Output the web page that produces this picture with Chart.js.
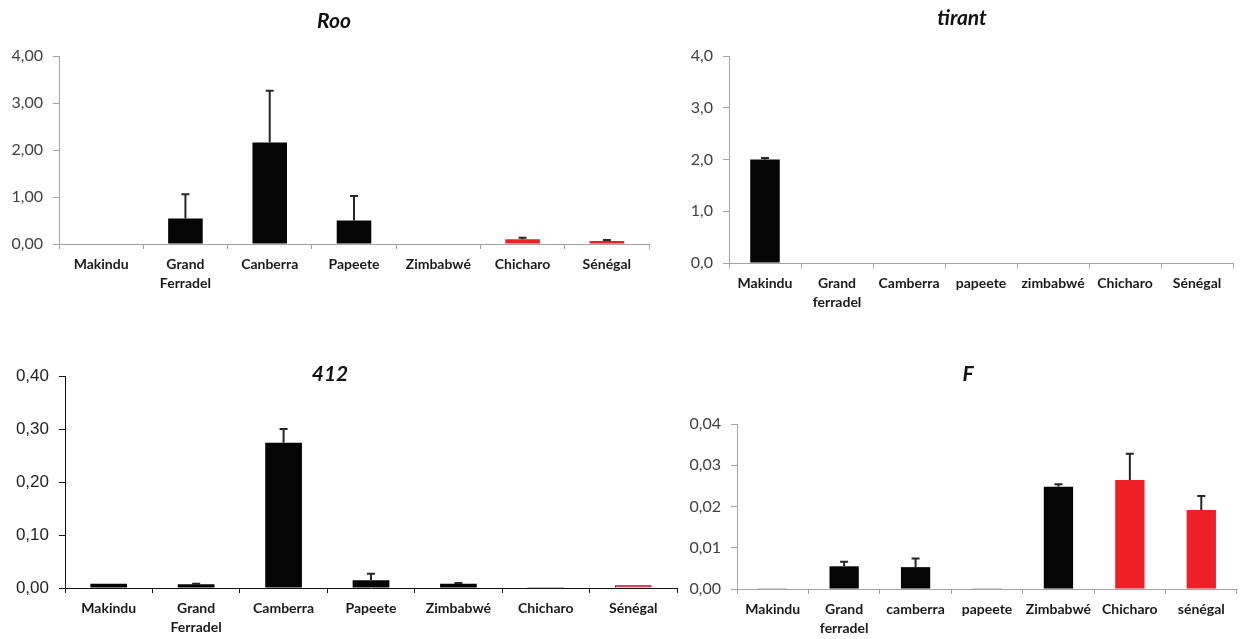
<!DOCTYPE html>
<html>
<head>
<meta charset="utf-8">
<script src="https://cdn.jsdelivr.net/npm/chart.js@4.4.1/dist/chart.umd.min.js"></script>
<style>
  html, body { margin: 0; padding: 0; background: #fff; }
  body { width: 1248px; height: 639px; position: relative; overflow: hidden; }
  .box { position: absolute; }
  .ttl { position: absolute; font-family: Lato, "Open Sans", sans-serif; font-weight: bold; font-style: italic;
         font-size: 21px; color: #111; transform: translate(-50%, -50%); white-space: nowrap; }
</style>
</head>
<body>
<div class="box" style="left:0;top:0;width:652px;height:300px"><canvas id="roo"></canvas></div>
<div class="box" style="left:680px;top:0;width:556px;height:320px"><canvas id="tirant"></canvas></div>
<div class="box" style="left:0;top:330px;width:680px;height:309px"><canvas id="c412"></canvas></div>
<div class="box" style="left:680px;top:330px;width:560px;height:309px"><canvas id="cF"></canvas></div>

<div class="ttl" style="left:334px;top:19px">Roo</div>
<div class="ttl" style="left:962px;top:16px">tirant</div>
<div class="ttl" style="left:330px;top:372px">412</div>
<div class="ttl" style="left:968px;top:372px">F</div>

<script>
"use strict";

// Roo
const rooLabels = ["Makindu", ["Grand", "Ferradel"], "Canberra", "Papeete", "Zimbabwé", "Chicharo", "Sénégal"];
const rooValues = [0, 0.54, 2.16, 0.50, 0, 0.10, 0.065];
const rooErrors = [0, 0.52, 1.10, 0.52, 0, 0.035, 0.02];
const rooColors = ["#050505", "#050505", "#050505", "#050505", "#050505", "#ed1f27", "#ed1f27"];

// tirant
const tirantLabels = ["Makindu", ["Grand", "ferradel"], "Camberra", "papeete", "zimbabwé", "Chicharo", "Sénégal"];
const tirantValues = [2.0, 0, 0, 0.01, 0, 0, 0];
const tirantErrors = [0.03, 0, 0, 0, 0, 0, 0];
const tirantColors = ["#050505", "#050505", "#050505", "#777777", "#050505", "#050505", "#050505"];

// 412
const labels412 = ["Makindu", ["Grand", "Ferradel"], "Camberra", "Papeete", "Zimbabwé", "Chicharo", "Sénégal"];
const values412 = [0.008, 0.007, 0.274, 0.0145, 0.008, 0.0015, 0.005];
const errors412 = [0, 0.001, 0.026, 0.0125, 0.0015, 0, 0];
const colors412 = ["#050505", "#050505", "#050505", "#050505", "#050505", "#050505", "#ed1f27"];

// F
const labelsF = ["Makindu", ["Grand", "ferradel"], "camberra", "papeete", "Zimbabwé", "Chicharo", "sénégal"];
const valuesF = [0.0002, 0.0055, 0.0053, 0.0002, 0.0248, 0.02645, 0.01915];
const errorsF = [0, 0.0011, 0.0021, 0, 0.0006, 0.00635, 0.0034];
const colorsF = ["#8064a2", "#050505", "#050505", "#8064a2", "#050505", "#ed1f27", "#ed1f27"];

// barres d'erreur (seulement vers le haut)
const errorBars = {
    id: 'errorBars',
    afterDatasetsDraw(chart, args, opts) {
        const errs = opts.errors;
        if (!errs) return;
        const meta = chart.getDatasetMeta(0);
        const vals = chart.data.datasets[0].data;
        const y = chart.scales.y;
        const ctx = chart.ctx;
        ctx.save();
        ctx.strokeStyle = '#262626';
        ctx.lineWidth = 2;
        meta.data.forEach((bar, i) => {
            if (!errs[i]) return;
            const top = y.getPixelForValue(vals[i] + errs[i]);
            const base = y.getPixelForValue(vals[i]);
            ctx.beginPath();
            ctx.moveTo(bar.x, base);
            ctx.lineTo(bar.x, top);
            ctx.moveTo(bar.x - 4, top);
            ctx.lineTo(bar.x + 4, top);
            ctx.stroke();
        });
        ctx.restore();
    }
};

function makeChart(id, cfg) {
    const axisColor = cfg.axisColor || '#a3a3a3';
    new Chart(id, {
        type: 'bar',
        data: {
            labels: cfg.labels,
            datasets: [{
                data: cfg.values,
                backgroundColor: cfg.colors,
                borderColor: cfg.borderColors || cfg.colors,
                borderWidth: cfg.borderWidths || 0,
                categoryPercentage: 1,
                barPercentage: cfg.barPct
            }]
        },
        options: {
            responsive: true,
            maintainAspectRatio: false,
            animation: false,
            layout: { padding: { top: cfg.padTop, right: 3, left: 0, bottom: 0 } },
            plugins: {
                legend: { display: false },
                tooltip: { enabled: false },
                errorBars: { errors: cfg.errors }
            },
            scales: {
                x: {
                    offset: true,
                    grid: { offset: true, drawOnChartArea: false, drawTicks: true, tickLength: 5, color: axisColor },
                    border: { color: axisColor, width: 1 },
                    ticks: {
                        color: '#1a1a1a',
                        padding: 6,
                        maxRotation: 0,
                        autoSkip: false,
                        font: { family: 'Lato, "Open Sans", sans-serif', size: 14, weight: 'bold', lineHeight: 1.36 }
                    },
                    afterFit: (s) => { s.height = cfg.xHeight; }
                },
                y: {
                    min: 0,
                    max: cfg.max,
                    grid: { drawOnChartArea: false, drawTicks: true, tickLength: 6, color: axisColor },
                    border: { color: axisColor, width: 1 },
                    ticks: {
                        stepSize: cfg.step,
                        color: cfg.yTickColor || '#404040',
                        padding: cfg.yPad || 10,
                        font: cfg.yFont || { family: 'Lato, "Open Sans", sans-serif', size: 16 },
                        callback: (v) => Number(v).toFixed(cfg.dec).replace('.', ',')
                    },
                    afterFit: (s) => { s.width = cfg.yWidth; }
                }
            }
        },
        plugins: [errorBars]
    });
}

makeChart('roo', {
    labels: rooLabels, values: rooValues, errors: rooErrors, colors: rooColors,
    max: 4, step: 1, dec: 2, padTop: 56, xHeight: 56, yWidth: 59, barPct: 0.41
});

makeChart('tirant', {
    labels: tirantLabels, values: tirantValues, errors: tirantErrors, colors: tirantColors,
    max: 4, step: 1, dec: 1, padTop: 56, xHeight: 57, yWidth: 49, barPct: 0.41
});

makeChart('c412', {
    labels: labels412, values: values412, errors: errors412, colors: colors412,
    borderColors: ["#050505", "#050505", "#050505", "#050505", "#050505", "#050505", "#050505"],
    borderWidths: [0, 0, 0, 0, 0, 0, 1],
    max: 0.4, step: 0.1, dec: 2, padTop: 46, xHeight: 51, yWidth: 65, barPct: 0.42,
    axisColor: '#111111', yTickColor: '#222222',
    yFont: { family: '"Liberation Sans", Arial, sans-serif', size: 17 }
});

makeChart('cF', {
    labels: labelsF, values: valuesF, errors: errorsF, colors: colorsF,
    max: 0.04, step: 0.01, dec: 2, padTop: 94, xHeight: 50, yWidth: 57, barPct: 0.41
});
</script>
</body>
</html>
